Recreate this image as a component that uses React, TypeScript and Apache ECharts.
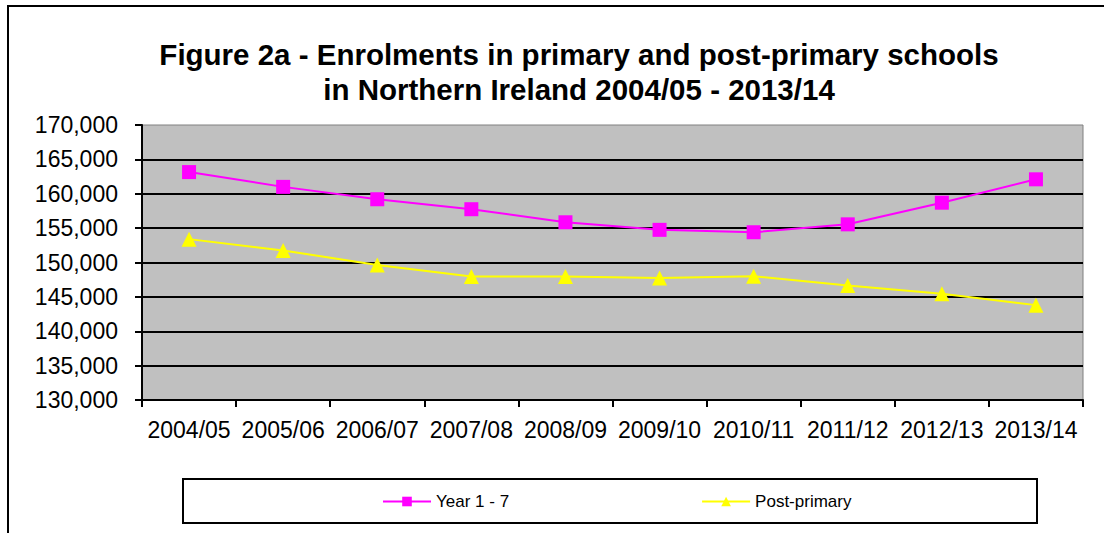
import React, { useEffect, useRef } from "react";
import * as echarts from "echarts";

const categories = ["2004/05", "2005/06", "2006/07", "2007/08", "2008/09", "2009/10", "2010/11", "2011/12", "2012/13", "2013/14"];
const year1to7 = [163150, 161000, 159200, 157750, 155850, 154750, 154400, 155550, 158700, 162100];
const postPrimary = [153400, 151750, 149650, 147950, 147950, 147750, 148000, 146650, 145450, 143800];
const titleLines = ["Figure 2a - Enrolments in primary and post-primary schools", "in Northern Ireland 2004/05 - 2013/14"];
const seriesNames = ["Year 1 - 7", "Post-primary"];

const FONT = "'Liberation Sans', Arial, sans-serif";

export default function App() {
  const ref = useRef<HTMLDivElement>(null);
  useEffect(() => {
    if (!ref.current) return;
    const chart = echarts.init(ref.current, null, { renderer: "svg" });
    chart.setOption({
      animation: false,
      backgroundColor: "#ffffff",
      textStyle: { fontFamily: FONT },
      graphic: [
        {
          type: "rect",
          shape: { x: 8, y: 6, width: 1200, height: 600 },
          style: { fill: "none", stroke: "#000000", lineWidth: 2 },
          silent: true,
        },
        {
          type: "rect",
          shape: { x: 183, y: 479, width: 854, height: 44 },
          style: { fill: "#ffffff", stroke: "#000000", lineWidth: 2 },
          silent: true,
          z: -1,
        },
        {
          type: "text",
          x: 579,
          y: 54,
          style: { text: titleLines[0], font: `bold 29.5px ${FONT}`, fill: "#000", textAlign: "center", textVerticalAlign: "middle" },
        },
        {
          type: "text",
          x: 579,
          y: 89,
          style: { text: titleLines[1], font: `bold 29.5px ${FONT}`, fill: "#000", textAlign: "center", textVerticalAlign: "middle" },
        },
      ],
      legend: {
        data: seriesNames,
        left: 382,
        top: 493,
        padding: 0,
        itemWidth: 48,
        itemHeight: 12,
        itemGap: 192,
        textStyle: { fontSize: 17, color: "#000", fontFamily: FONT },
      },
      grid: {
        left: 142,
        right: 21,
        top: 125,
        bottom: 133,
        show: true,
        backgroundColor: "#C0C0C0",
        borderColor: "#808080",
        borderWidth: 1,
      },
      xAxis: {
        type: "category",
        data: categories,
        boundaryGap: true,
        axisLine: { lineStyle: { color: "#000", width: 2 } },
        axisTick: { show: true, length: 7, lineStyle: { color: "#000", width: 2 } },
        axisLabel: { color: "#000", fontSize: 23, margin: 18, fontFamily: FONT, interval: 0 },
        splitLine: { show: false },
      },
      yAxis: {
        type: "value",
        min: 130000,
        max: 170000,
        interval: 5000,
        axisLine: { show: true, lineStyle: { color: "#000", width: 2 } },
        axisTick: { show: true, length: 7, lineStyle: { color: "#000", width: 2 } },
        axisLabel: {
          color: "#000",
          fontSize: 23,
          margin: 24,
          fontFamily: FONT,
          formatter: (v: number) => v.toLocaleString("en-US"),
        },
        splitLine: { show: true, showMaxLine: false, showMinLine: false, lineStyle: { color: "#000", width: 2 } },
      },
      series: [
        {
          name: seriesNames[0],
          type: "line",
          data: year1to7,
          symbol: "rect",
          symbolSize: 14,
          lineStyle: { color: "#FF00FF", width: 2 },
          itemStyle: { color: "#FF00FF" },
        },
        {
          name: seriesNames[1],
          type: "line",
          data: postPrimary,
          symbol: "triangle",
          symbolSize: 15,
          lineStyle: { color: "#FFFF00", width: 2 },
          itemStyle: { color: "#FFFF00" },
        },
      ],
    });
    return () => chart.dispose();
  }, []);
  return <div ref={ref} style={{ position: "absolute", left: 0, top: 0, width: 1104, height: 533 }} />;
}
